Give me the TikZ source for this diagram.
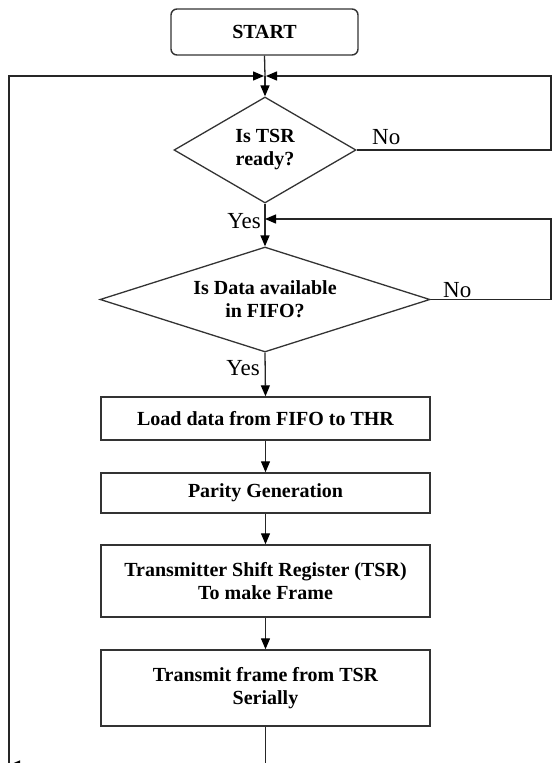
\documentclass[tikz,border=0pt]{standalone}
\usepackage{fontspec}
\setmainfont{Liberation Serif}
\usetikzlibrary{shapes.geometric,arrows.meta}
\begin{document}
\begin{tikzpicture}[x=1pt,y=-1pt,
  flow/.style={draw=black!85, line width=1.3pt},
  arr/.style={flow, -{Triangle[length=11pt,width=9pt,color=black]}},
  stepbox/.style={draw=black!80, line width=1.4pt, rectangle, minimum width=329pt,
    inner sep=0pt, align=center, font=\fontsize{20}{23}\selectfont\bfseries},
  decision/.style={draw=black!80, line width=1.3pt, diamond, inner sep=0pt,
    align=center, font=\fontsize{20}{23}\selectfont\bfseries},
  lbl/.style={inner sep=0pt, font=\fontsize{23}{26}\selectfont}
]
\useasboundingbox (0,0) rectangle (552,763);
\clip (0,0) rectangle (552,763);

% process blocks
\node[draw=black!80, line width=1.4pt, rounded corners=6pt, minimum width=187pt,
  minimum height=46pt, inner sep=0pt, font=\fontsize{20}{23}\selectfont\bfseries]
  (start) at (264.5,32) {START};
\node[decision, minimum width=182pt, minimum height=106pt, aspect=1.717]
  (tsr) at (265,150) {Is TSR\\ready?};
\node[decision, minimum width=330pt, minimum height=105pt, aspect=3.14]
  (fifo) at (265,299.5) {Is Data available\\in FIFO?};
\node[stepbox, minimum height=43pt] (load) at (265.5,418.5) {Load data from FIFO to THR};
\node[stepbox, minimum height=40pt] (parity) at (265.5,493) {Parity Generation};
\node[stepbox, minimum height=72pt] (shift) at (265.5,581) {Transmitter Shift Register (TSR)\\To make Frame};
\node[stepbox, minimum height=76pt] (send) at (265.5,688) {Transmit frame from TSR\\Serially};

% branch labels
\node[lbl, anchor=west] (no1) at (372,137) {No};
\node[lbl, anchor=west] (no2) at (443,290) {No};
\node[lbl, anchor=east] (yes1) at (261,221) {Yes};
\node[lbl, anchor=east] (yes2) at (260,368) {Yes};

% routing points
\coordinate (join) at (265,76);
\coordinate (wait) at (265,219);
\coordinate (rtop) at (551,76);
\coordinate (rtsr) at (551,150);
\coordinate (rmid) at (551,219);
\coordinate (rfifo) at (551,299.5);
\coordinate (ltop) at (9,76);
\coordinate (lbot) at (9,765);
\coordinate (bot) at (265.5,765);

% main flow
\draw[flow] (start.south) -- (join);
\draw[arr] (join) -- (tsr.north);
\draw[flow] (tsr.south) -- (wait);
\draw[arr] (wait) -- (fifo.north);
\draw[arr] (fifo.south) -- (load.north);
\draw[arr] (load.south) -- (parity.north);
\draw[arr] (parity.south) -- (shift.north);
\draw[arr] (shift.south) -- (send.north);

% loops back
\draw[arr] (tsr.east) -- (rtsr) -- (rtop) -- ([xshift=1pt]join);
\draw[arr] (fifo.east) -- (rfifo) -- (rmid) -- (wait);
\draw[arr] (send.south) -- (bot) -- (lbot);
\draw[arr] (lbot) -- (ltop) -- ([xshift=-1pt]join);
\end{tikzpicture}
\end{document}
